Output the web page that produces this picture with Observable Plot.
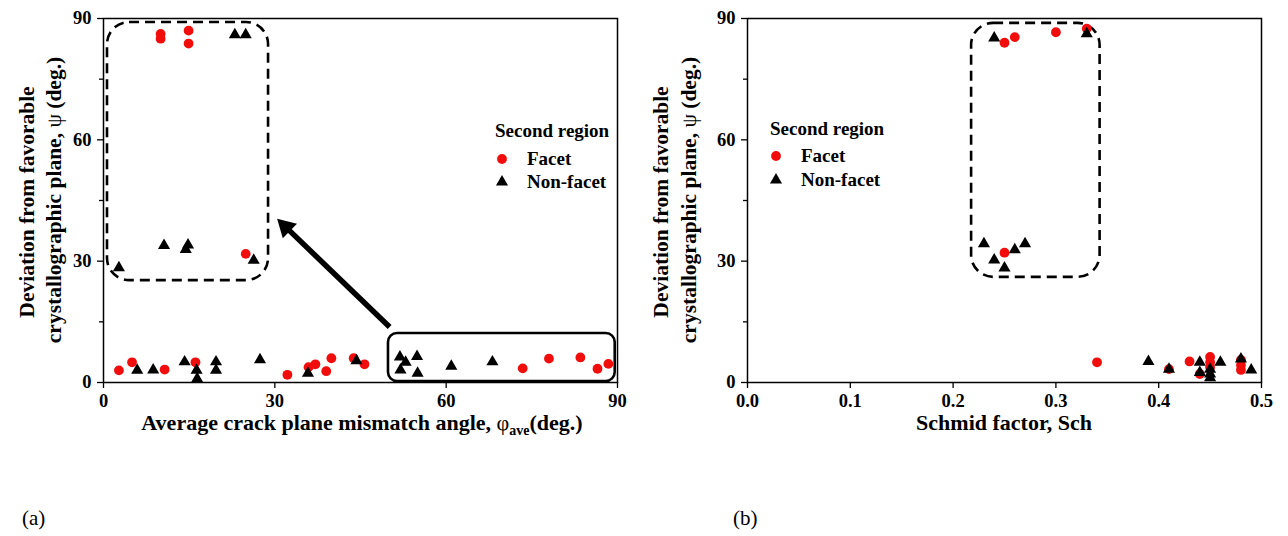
<!DOCTYPE html>
<html><head><meta charset="utf-8">
<script src="https://cdn.jsdelivr.net/npm/d3@7"></script>
<script src="https://cdn.jsdelivr.net/npm/@observablehq/plot@0.6"></script>
<style>
body{margin:0;background:#fff;width:1288px;height:536px;overflow:hidden;position:relative;font-family:"Liberation Serif",serif;}
.panel{position:absolute;top:0;}
.lab{position:absolute;font-size:21px;color:#000;}
</style></head><body>
<div id="a" class="panel" style="left:0"></div>
<div id="b" class="panel" style="left:644px"></div>
<div class="lab" style="left:22px;top:506px">(a)</div>
<div class="lab" style="left:733px;top:506px">(b)</div>
<script>
// ---- Panel (a): average crack plane mismatch angle vs deviation ----
const facetA_x = [2.7, 5.0, 10.7, 16.1, 32.2, 35.9, 37.1, 39.0, 39.9, 43.8, 45.7, 73.4, 78.0, 83.5, 86.5, 88.4, 10.0, 10.0, 14.9, 14.9, 24.9];
const facetA_y = [3.0, 5.0, 3.2, 5.0, 1.9, 3.8, 4.5, 2.8, 6.0, 6.0, 4.5, 3.5, 5.9, 6.2, 3.4, 4.6, 86.2, 85.0, 87.0, 83.8, 31.8];
const nonfacetA_x = [5.9, 8.7, 14.2, 16.3, 16.4, 19.7, 19.7, 27.4, 35.8, 44.3, 51.9, 52.9, 54.9, 52.0, 55.0, 60.9, 68.1, 23.0, 24.9, 10.6, 14.8, 14.4, 26.3, 2.7];
const nonfacetA_y = [3.0, 3.1, 5.1, 3.0, 0.9, 5.1, 3.0, 5.6, 2.3, 5.4, 6.3, 5.0, 6.4, 3.1, 2.3, 4.0, 5.1, 86.0, 86.0, 33.9, 34.0, 32.9, 30.2, 28.4];
const xTicksA = [0, 30, 60, 90];
// annotation extents (data units)
const dashedBoxA = [{x1: 0.7, x2: 28.9, y1: 25.2, y2: 89.0}];
const solidBoxA = [{x1: 49.9, x2: 89.6, y1: 0.25, y2: 12.1}];
const arrowA = {x1: 50.1, y1: 13.7, x2: 30.4, y2: 40.5};

// ---- Panel (b): Schmid factor vs deviation ----
const facetB_x = [0.25, 0.26, 0.30, 0.33, 0.25, 0.34, 0.41, 0.43, 0.44, 0.45, 0.45, 0.45, 0.48, 0.48, 0.48];
const facetB_y = [84.0, 85.4, 86.6, 87.5, 32.1, 5.0, 3.3, 5.2, 2.1, 6.3, 5.0, 3.8, 5.6, 4.3, 3.1];
const nonfacetB_x = [0.24, 0.33, 0.23, 0.24, 0.25, 0.26, 0.27, 0.39, 0.41, 0.44, 0.44, 0.45, 0.45, 0.45, 0.46, 0.48, 0.49];
const nonfacetB_y = [85.2, 86.2, 34.3, 30.3, 28.3, 32.8, 34.3, 5.2, 3.3, 5.0, 2.5, 3.3, 2.1, 1.2, 5.0, 5.8, 3.1];
const xTicksB = [0, 0.1, 0.2, 0.3, 0.4, 0.5];
const dashedBoxB = [{x1: 0.218, x2: 0.343, y1: 26.0, y2: 88.8}];

const yTicks = [0, 30, 60, 90];
const yMinor = [15, 45, 75];
const legendTitle = "Second region";
const seriesNames = ["Facet", "Non-facet"];
const RED = "#f20d0d";
const FONT = "Liberation Serif";

function pts(xs, ys) { return xs.map((x, i) => ({x, y: ys[i]})); }

const W = 644, H = 440, ML = 103, MT = 18, MB = 58;

function makePanel(o) {
  const kx = (W - ML - o.marginRight) / (o.xDomain[1] - o.xDomain[0]);
  const ky = (H - MT - MB) / 90;
  const marks = [
    Plot.frame({stroke: "#000", strokeWidth: 1.5}),
    Plot.axisX({ticks: o.xTicks, tickSize: 6, tickPadding: 5, tickFormat: o.xFormat, label: null, strokeWidth: 1.3, fontSize: 18.5, fontWeight: "bold"}),
    Plot.axisY({ticks: yTicks, tickSize: 6, tickPadding: 6, label: null, strokeWidth: 1.3, fontSize: 18.5, fontWeight: "bold"}),
    Plot.axisY({ticks: yMinor, tickSize: 4, tickFormat: () => "", label: null, strokeWidth: 1.3}),
    Plot.rect(o.dashed, {x1: "x1", x2: "x2", y1: "y1", y2: "y2", rx: 22, fill: "none", stroke: "#000", strokeWidth: 2.6, strokeDasharray: "10,6"})
  ];
  if (o.solid) marks.push(Plot.rect(o.solid, {x1: "x1", x2: "x2", y1: "y1", y2: "y2", rx: 9, fill: "none", stroke: "#000", strokeWidth: 2.6}));
  if (o.arrow) {
    const a = o.arrow;
    const dxp = (a.x2 - a.x1) * kx, dyp = -(a.y2 - a.y1) * ky;
    const L = Math.hypot(dxp, dyp), ux = dxp / L, uy = dyp / L;
    const rHead = 7.6;
    const side = Math.sqrt(4 * Math.PI * rHead * rHead / Math.sqrt(3));
    const back = side * Math.sqrt(3) / 3; // centroid to tip
    const head = {x: a.x2 - ux * back / kx, y: a.y2 + uy * back / ky, rot: Math.atan2(ux, -uy) * 180 / Math.PI};
    const shaftEnd = {x: a.x2 - ux * (back * 1.3) / kx, y: a.y2 + uy * (back * 1.3) / ky};
    marks.push(
      Plot.link([{x1: a.x1, y1: a.y1, x2: shaftEnd.x, y2: shaftEnd.y}], {x1: "x1", y1: "y1", x2: "x2", y2: "y2", stroke: "#000", strokeWidth: 5.5}),
      Plot.dot([head], {x: "x", y: "y", rotate: "rot", symbol: "triangle", r: rHead, fill: "#000", stroke: "none"})
    );
  }
  marks.push(
    Plot.dot(pts(o.fx, o.fy), {x: "x", y: "y", r: 4.9, fill: RED, stroke: "none"}),
    Plot.dot(pts(o.nx, o.ny), {x: "x", y: "y", r: 4.5, symbol: "triangle", fill: "#000", stroke: "none"})
  );
  const svg = Plot.plot({
    width: W, height: H,
    marginLeft: ML, marginRight: o.marginRight, marginTop: MT, marginBottom: MB,
    x: {domain: o.xDomain},
    y: {domain: [0, 90]},
    style: {fontFamily: FONT, fontSize: "18px", fontWeight: "bold", color: "#000", background: "transparent", overflow: "visible"},
    marks
  });
  const s = d3.select(svg);
  // y title (two lines)
  const yt = s.append("g").attr("font-family", FONT).attr("font-weight", "bold").attr("font-size", 21.5).attr("fill", "#000").attr("text-anchor", "middle");
  yt.append("text").attr("transform", `translate(${o.yt1},202) rotate(-90)`).text("Deviation from favorable");
  const t2 = yt.append("text").attr("transform", `translate(${o.yt2},200) rotate(-90)`);
  t2.append("tspan").text("crystallographic plane, ");
  t2.append("tspan").attr("font-weight", "normal").text("ψ");
  t2.append("tspan").text(" (deg.)");
  // x title
  const xt = s.append("text").attr("font-family", FONT).attr("font-weight", "bold").attr("font-size", 22).attr("fill", "#000")
    .attr("text-anchor", "middle").attr("x", o.xtX).attr("y", 430);
  o.xTitle(xt);
  // legend
  const lg = s.append("g").attr("font-family", FONT).attr("font-weight", "bold").attr("font-size", 19).attr("fill", "#000").attr("text-anchor", "start");
  lg.append("text").attr("x", o.lg.tx).attr("y", o.lg.ty).text(legendTitle);
  lg.append("path").attr("transform", `translate(${o.lg.mx},${o.lg.m1})`).attr("d", d3.symbol(d3.symbolCircle, Math.PI * 4.9 * 4.9)()).attr("fill", RED);
  lg.append("path").attr("transform", `translate(${o.lg.mx},${o.lg.m2})`).attr("d", d3.symbol(d3.symbolTriangle, Math.PI * 4.5 * 4.5)()).attr("fill", "#000");
  lg.append("text").attr("x", o.lg.lx).attr("y", o.lg.m1 + 6).text(seriesNames[0]);
  lg.append("text").attr("x", o.lg.lx).attr("y", o.lg.m2 + 6).text(seriesNames[1]);
  return svg;
}

document.getElementById("a").append(makePanel({
  xDomain: [0, 90], xTicks: xTicksA, xFormat: d3.format("d"), marginRight: 27,
  fx: facetA_x, fy: facetA_y, nx: nonfacetA_x, ny: nonfacetA_y,
  dashed: dashedBoxA, solid: solidBoxA, arrow: arrowA,
  yt1: 34, yt2: 61, xtX: 362,
  xTitle: t => { t.append("tspan").text("Average crack plane mismatch angle, "); t.append("tspan").attr("font-weight", "normal").text("φ"); t.append("tspan").attr("font-size", 14).attr("dy", 5).text("ave"); t.append("tspan").attr("dy", -5).text("(deg.)"); },
  lg: {tx: 495, ty: 137, mx: 502, m1: 159, m2: 182, lx: 527}
}));
document.getElementById("b").append(makePanel({
  xDomain: [0, 0.5], xTicks: xTicksB, xFormat: d3.format(".1f"), marginRight: 27,
  fx: facetB_x, fy: facetB_y, nx: nonfacetB_x, ny: nonfacetB_y,
  dashed: dashedBoxB,
  yt1: 24, yt2: 52, xtX: 360,
  xTitle: t => { t.text("Schmid factor, Sch"); },
  lg: {tx: 126, ty: 135, mx: 132, m1: 156, m2: 180, lx: 157}
}));
</script></body></html>
